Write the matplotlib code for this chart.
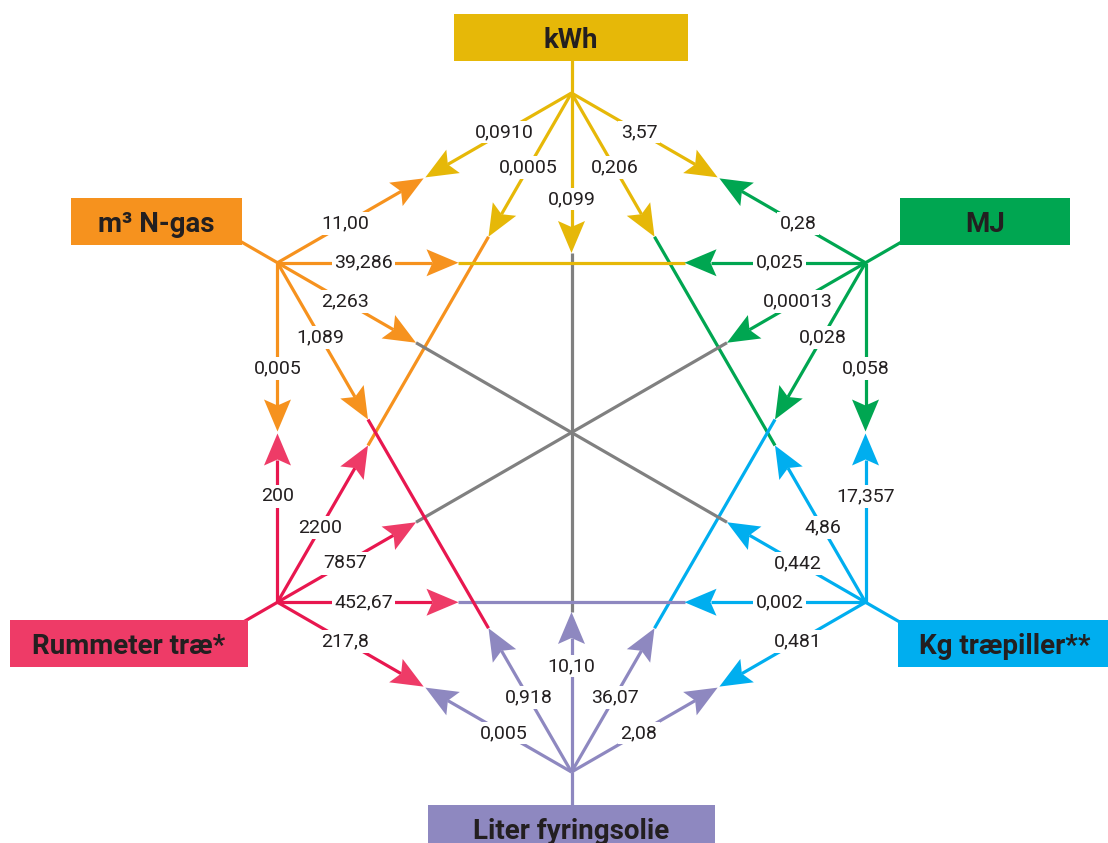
import numpy as np
import matplotlib.pyplot as plt
from matplotlib.patches import Polygon, Rectangle

# Enheder rundt om sekskanten (start øverst, med uret)
units = ['kWh', 'MJ', 'Kg træpiller**', 'Liter fyringsolie', 'Rummeter træ*', 'm³ N-gas']
box_colors = ['#E6B808', '#00A651', '#00AEEF', '#8E88C0', '#EE3B67', '#F6921E']
line_colors = ['#E6B808', '#00A651', '#00AEEF', '#8E88C0', '#E8174F', '#F6921E']

# Omregningsfaktorer fra hver enhed til de andre (samme rækkefølge som units)
fra_kwh = [None, '3,57', '0,206', '0,099', '0,0005', '0,0910']
fra_mj = ['0,28', None, '0,058', '0,028', '0,00013', '0,025']
fra_kg = ['4,86', '17,357', None, '0,481', '0,002', '0,442']
fra_liter = ['10,10', '36,07', '2,08', None, '0,005', '0,918']
fra_rummeter = ['2200', '7857', '452,67', '217,8', None, '200']
fra_ngas = ['11,00', '39,286', '2,263', '1,089', '0,005', None]
factors = [fra_kwh, fra_mj, fra_kg, fra_liter, fra_rummeter, fra_ngas]

# Layout (pixel-koordinater)
W, H = 1108, 843
cx, cy, R = 571.5, 432.5, 339.5
angles = np.radians([90, 30, -30, -90, -150, 150])
hubs = np.column_stack([cx + R * np.cos(angles), cy - R * np.sin(angles)])

boxes = [(454, 14, 234, 47), (900, 198, 170, 47), (898, 620, 222, 47),
         (428, 805, 287, 50), (10, 620, 238, 47), (71, 198, 171, 47)]
text_dark = '#231F20'
gray = '#808080'
lw = 2.3

fig = plt.figure(figsize=(W / 100, H / 100), dpi=100)
ax = fig.add_axes([0, 0, 1, 1])
ax.set_xlim(0, W)
ax.set_ylim(H, 0)
ax.axis('off')


def arrow_len(i, j):
    k = (j - i) % 6
    if k in (1, 5):
        return R / 2 - 1
    if k == 3:
        return 160
    return 166 if i in (0, 3) else 181


def label_dist(i, j, d):
    k = (j - i) % 6
    if abs(d[0]) < 0.01:
        return 106
    if k in (2, 4):
        return 86
    return 78


def head(tip, d, color, L=32, hw=13.5, notch=6):
    n = np.array([-d[1], d[0]])
    pts = [tip, tip - L * d + hw * n, tip - (L - notch) * d, tip - L * d - hw * n]
    ax.add_patch(Polygon(pts, closed=True, fc=color, ec='none', zorder=4))


# linjer ud til boksene
for i in range(6):
    out = hubs[i] - np.array([cx, cy])
    out = out / np.linalg.norm(out)
    end = hubs[i] + out * 45
    ax.plot([hubs[i][0], end[0]], [hubs[i][1], end[1]], color=line_colors[i], lw=lw,
            solid_capstyle='butt', zorder=2)

# midterstykker på diagonaler og diametre
for i in range(6):
    for j in range(i + 1, 6):
        k = (j - i) % 6
        if k in (1, 5):
            continue
        p, q = hubs[i], hubs[j]
        d = (q - p) / np.linalg.norm(q - p)
        a = p + d * arrow_len(i, j)
        b = q - d * arrow_len(j, i)
        if k == 3:
            c = gray
        else:
            mid = (i + 1) % 6 if k == 2 else (i - 1) % 6
            c = line_colors[mid]
        ax.plot([a[0], b[0]], [a[1], b[1]], color=c, lw=lw, solid_capstyle='butt', zorder=2)

# pile med faktorer
for i in range(6):
    for j in range(6):
        lab = factors[i][j]
        if lab is None:
            continue
        p, q = hubs[i], hubs[j]
        d = (q - p) / np.linalg.norm(q - p)
        tip = p + d * arrow_len(i, j)
        shaft_end = tip - d * 26
        ax.plot([p[0], shaft_end[0]], [p[1], shaft_end[1]], color=line_colors[i], lw=lw,
                solid_capstyle='butt', zorder=3)
        head(tip, d, box_colors[i])
        pos = p + d * label_dist(i, j, d)
        ax.text(pos[0], pos[1], lab, ha='center', va='center', fontsize=14,
                family='Roboto', color=text_dark, zorder=5,
                bbox=dict(boxstyle='square,pad=0.12', fc='white', ec='none'))

# enhedsbokse
for i in range(6):
    x0, y0, bw, bh = boxes[i]
    ax.add_patch(Rectangle((x0, y0), bw, bh, fc=box_colors[i], ec='none', zorder=6))
    ax.text(x0 + bw / 2 if i != 2 else x0 + 107, y0 + 34, units[i], ha='center', va='baseline',
            fontsize=20, family='Roboto', fontweight='bold', color=text_dark, zorder=7)

fig.savefig('out.png', dpi=100)
